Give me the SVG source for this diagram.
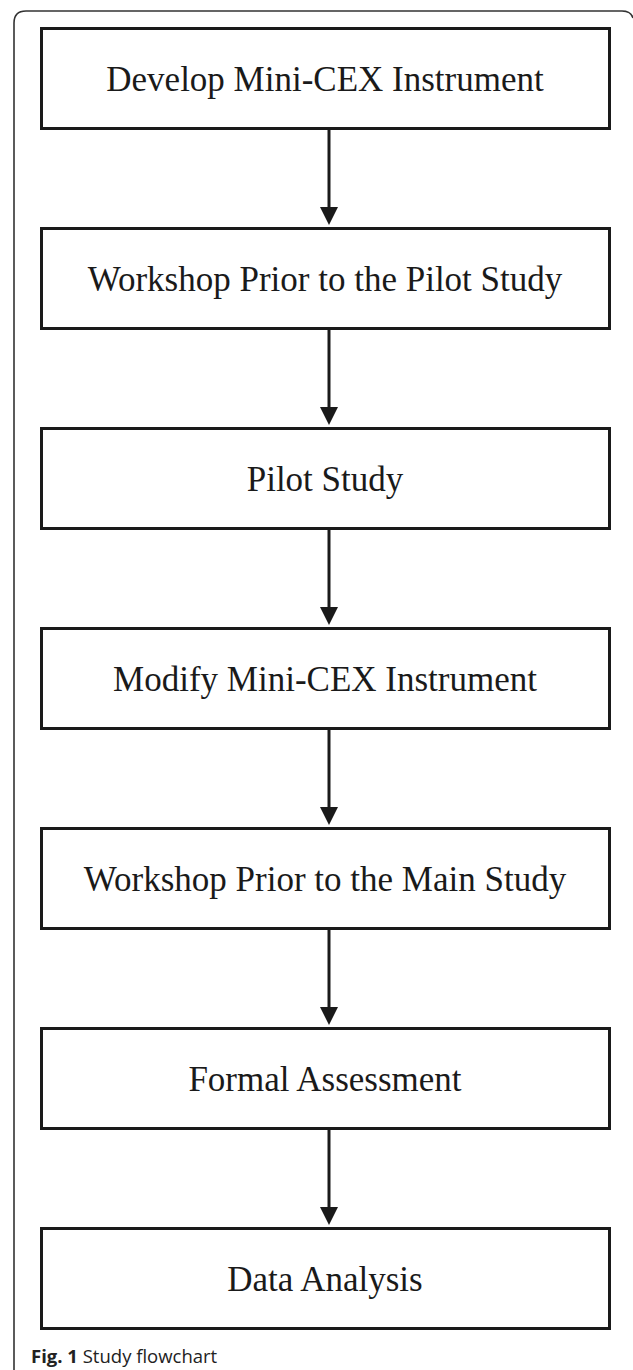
<svg xmlns="http://www.w3.org/2000/svg" width="633" height="1370" viewBox="0 0 633 1370">
<style>
.box{fill:#fff;stroke:#1a1a1a;stroke-width:3}
.lbl{font-family:"Liberation Serif","Times New Roman",serif;font-size:35px;fill:#1a1a1a;text-anchor:middle}
.con{stroke:#1a1a1a;stroke-width:3;fill:none}
.head{fill:#1a1a1a}
.cap{font-family:"Open Sans","Noto Sans",sans-serif;font-size:18.5px;fill:#222}
</style>
<rect width="633" height="1370" fill="#fff"/>
<path d="M14,1370 V23 Q14,11 26,11 H622 Q631,11 633,18" fill="none" stroke="#333" stroke-width="1.6"/>
<g id="connectors">
<line class="con" x1="329" y1="129" x2="329" y2="210"/><polygon class="head" points="320,207 338,207 329,225"/>
<line class="con" x1="329" y1="329" x2="329" y2="410"/><polygon class="head" points="320,407 338,407 329,425"/>
<line class="con" x1="329" y1="529" x2="329" y2="610"/><polygon class="head" points="320,607 338,607 329,625"/>
<line class="con" x1="329" y1="729" x2="329" y2="810"/><polygon class="head" points="320,807 338,807 329,825"/>
<line class="con" x1="329" y1="929" x2="329" y2="1010"/><polygon class="head" points="320,1007 338,1007 329,1025"/>
<line class="con" x1="329" y1="1129" x2="329" y2="1210"/><polygon class="head" points="320,1207 338,1207 329,1225"/>
</g>
<g id="n1"><rect class="box" x="41.5" y="28.5" width="568" height="100"/><text class="lbl" x="325" y="91">Develop Mini-CEX Instrument</text></g>
<g id="n2"><rect class="box" x="41.5" y="228.5" width="568" height="100"/><text class="lbl" x="325" y="291">Workshop Prior to the Pilot Study</text></g>
<g id="n3"><rect class="box" x="41.5" y="428.5" width="568" height="100"/><text class="lbl" x="325" y="491">Pilot Study</text></g>
<g id="n4"><rect class="box" x="41.5" y="628.5" width="568" height="100"/><text class="lbl" x="325" y="691">Modify Mini-CEX Instrument</text></g>
<g id="n5"><rect class="box" x="41.5" y="828.5" width="568" height="100"/><text class="lbl" x="325" y="891">Workshop Prior to the Main Study</text></g>
<g id="n6"><rect class="box" x="41.5" y="1028.5" width="568" height="100"/><text class="lbl" x="325" y="1091">Formal Assessment</text></g>
<g id="n7"><rect class="box" x="41.5" y="1228.5" width="568" height="100"/><text class="lbl" x="325" y="1291">Data Analysis</text></g>
<text class="cap" x="31" y="1363"><tspan font-weight="bold">Fig. 1</tspan> Study flowchart</text>
</svg>
